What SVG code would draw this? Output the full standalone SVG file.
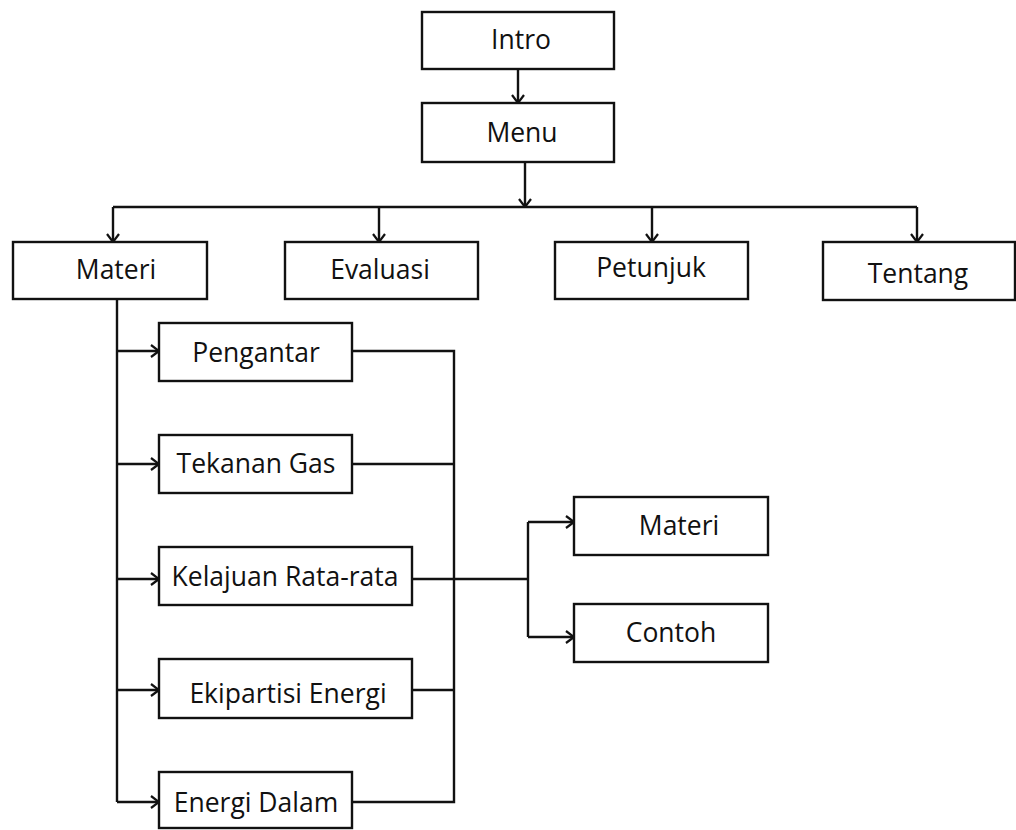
<svg xmlns="http://www.w3.org/2000/svg" width="1016" height="830" viewBox="0 0 1016 830">
  <style>
    .box { fill: #ffffff; stroke: #111111; stroke-width: 2.4; }
    .lbl { font-family: "Open Sans", "Noto Sans", sans-serif; font-size: 26.5px; fill: #111111; text-anchor: middle; }
    .ln { fill: none; stroke: #111111; stroke-width: 2.4; }
    .arr { marker-end: url(#chev); }
  </style>
  <defs>
    <marker id="chev" viewBox="0 0 10 14" refX="9" refY="7" markerWidth="10" markerHeight="14" markerUnits="userSpaceOnUse" orient="auto">
      <path d="M1,1 L9,7 L1,13" fill="none" stroke="#111111" stroke-width="2.2"/>
    </marker>
  </defs>
  <rect width="1016" height="830" fill="#ffffff"/>

  <g id="connectors">
    <path class="ln arr" d="M518,69 V103"/>
    <path class="ln arr" d="M525,162 V207"/>
    <path class="ln" d="M113,207 H917"/>
    <path class="ln arr" d="M113,207 V242"/>
    <path class="ln arr" d="M379,207 V242"/>
    <path class="ln arr" d="M652,207 V242"/>
    <path class="ln arr" d="M917,207 V242"/>
    <path class="ln" d="M117,299 V802"/>
    <path class="ln arr" d="M117,351 H159"/>
    <path class="ln arr" d="M117,464 H159"/>
    <path class="ln arr" d="M117,579 H159"/>
    <path class="ln arr" d="M117,690 H159"/>
    <path class="ln arr" d="M117,802 H159"/>
    <path class="ln" d="M352,351 H454 V802 H352"/>
    <path class="ln" d="M352,464 H454"/>
    <path class="ln" d="M412,690 H454"/>
    <path class="ln" d="M412,579 H528"/>
    <path class="ln" d="M528,522 V637"/>
    <path class="ln arr" d="M528,522 H574"/>
    <path class="ln arr" d="M528,637 H574"/>
  </g>

  <g id="intro">
    <rect class="box" x="422" y="12" width="192" height="57"/>
    <text class="lbl" x="521" y="49">Intro</text>
  </g>
  <g id="menu">
    <rect class="box" x="422" y="103" width="192" height="59"/>
    <text class="lbl" x="522" y="142">Menu</text>
  </g>
  <g id="materi">
    <rect class="box" x="13" y="242" width="194" height="57"/>
    <text class="lbl" x="116" y="279">Materi</text>
  </g>
  <g id="evaluasi">
    <rect class="box" x="285" y="242" width="193" height="57"/>
    <text class="lbl" x="380" y="279">Evaluasi</text>
  </g>
  <g id="petunjuk">
    <rect class="box" x="555" y="242" width="193" height="57"/>
    <text class="lbl" x="651" y="277">Petunjuk</text>
  </g>
  <g id="tentang">
    <rect class="box" x="823" y="242" width="192" height="58"/>
    <text class="lbl" x="918" y="283">Tentang</text>
  </g>
  <g id="pengantar">
    <rect class="box" x="159" y="323" width="193" height="58"/>
    <text class="lbl" x="256" y="362">Pengantar</text>
  </g>
  <g id="tekanan-gas">
    <rect class="box" x="159" y="435" width="193" height="58"/>
    <text class="lbl" x="256" y="473">Tekanan Gas</text>
  </g>
  <g id="kelajuan">
    <rect class="box" x="159" y="547" width="253" height="58"/>
    <text class="lbl" x="285" y="586">Kelajuan Rata-rata</text>
  </g>
  <g id="ekipartisi">
    <rect class="box" x="159" y="659" width="253" height="59"/>
    <text class="lbl" x="288" y="703">Ekipartisi Energi</text>
  </g>
  <g id="energi-dalam">
    <rect class="box" x="159" y="772" width="193" height="56"/>
    <text class="lbl" x="256" y="812">Energi Dalam</text>
  </g>
  <g id="sub-materi">
    <rect class="box" x="574" y="497" width="194" height="58"/>
    <text class="lbl" x="679" y="535">Materi</text>
  </g>
  <g id="contoh">
    <rect class="box" x="574" y="604" width="194" height="58"/>
    <text class="lbl" x="671" y="642">Contoh</text>
  </g>
</svg>
